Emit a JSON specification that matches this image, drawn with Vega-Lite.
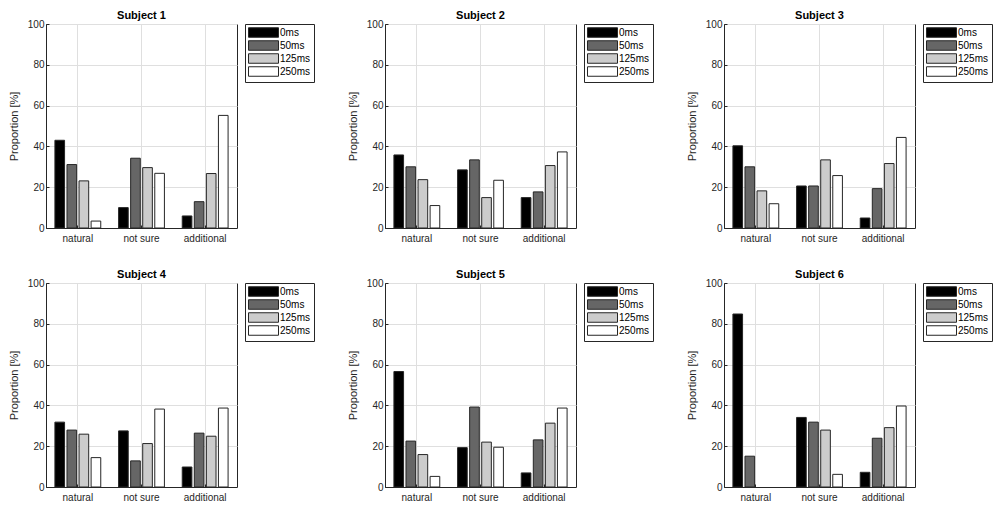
{
  "$schema": "https://vega.github.io/schema/vega-lite/v6.json",
  "padding": {"left": 7, "top": 9, "right": 0, "bottom": 0},
  "background": "white",
  "datasets": {
    "answers": [
      {"subject": "Subject 1", "response": "natural", "delay": "0ms", "proportion": 43.0},
      {"subject": "Subject 1", "response": "natural", "delay": "50ms", "proportion": 31.1},
      {"subject": "Subject 1", "response": "natural", "delay": "125ms", "proportion": 23.1},
      {"subject": "Subject 1", "response": "natural", "delay": "250ms", "proportion": 3.4},
      {"subject": "Subject 1", "response": "not sure", "delay": "0ms", "proportion": 10.0},
      {"subject": "Subject 1", "response": "not sure", "delay": "50ms", "proportion": 34.2},
      {"subject": "Subject 1", "response": "not sure", "delay": "125ms", "proportion": 29.6},
      {"subject": "Subject 1", "response": "not sure", "delay": "250ms", "proportion": 26.8},
      {"subject": "Subject 1", "response": "additional", "delay": "0ms", "proportion": 5.9},
      {"subject": "Subject 1", "response": "additional", "delay": "50ms", "proportion": 12.9},
      {"subject": "Subject 1", "response": "additional", "delay": "125ms", "proportion": 26.7},
      {"subject": "Subject 1", "response": "additional", "delay": "250ms", "proportion": 55.2},
      {"subject": "Subject 2", "response": "natural", "delay": "0ms", "proportion": 35.8},
      {"subject": "Subject 2", "response": "natural", "delay": "50ms", "proportion": 30.0},
      {"subject": "Subject 2", "response": "natural", "delay": "125ms", "proportion": 23.7},
      {"subject": "Subject 2", "response": "natural", "delay": "250ms", "proportion": 11.0},
      {"subject": "Subject 2", "response": "not sure", "delay": "0ms", "proportion": 28.5},
      {"subject": "Subject 2", "response": "not sure", "delay": "50ms", "proportion": 33.4},
      {"subject": "Subject 2", "response": "not sure", "delay": "125ms", "proportion": 14.9},
      {"subject": "Subject 2", "response": "not sure", "delay": "250ms", "proportion": 23.4},
      {"subject": "Subject 2", "response": "additional", "delay": "0ms", "proportion": 14.9},
      {"subject": "Subject 2", "response": "additional", "delay": "50ms", "proportion": 17.7},
      {"subject": "Subject 2", "response": "additional", "delay": "125ms", "proportion": 30.6},
      {"subject": "Subject 2", "response": "additional", "delay": "250ms", "proportion": 37.3},
      {"subject": "Subject 3", "response": "natural", "delay": "0ms", "proportion": 40.3},
      {"subject": "Subject 3", "response": "natural", "delay": "50ms", "proportion": 30.0},
      {"subject": "Subject 3", "response": "natural", "delay": "125ms", "proportion": 18.2},
      {"subject": "Subject 3", "response": "natural", "delay": "250ms", "proportion": 11.9},
      {"subject": "Subject 3", "response": "not sure", "delay": "0ms", "proportion": 20.6},
      {"subject": "Subject 3", "response": "not sure", "delay": "50ms", "proportion": 20.6},
      {"subject": "Subject 3", "response": "not sure", "delay": "125ms", "proportion": 33.4},
      {"subject": "Subject 3", "response": "not sure", "delay": "250ms", "proportion": 25.7},
      {"subject": "Subject 3", "response": "additional", "delay": "0ms", "proportion": 4.9},
      {"subject": "Subject 3", "response": "additional", "delay": "50ms", "proportion": 19.3},
      {"subject": "Subject 3", "response": "additional", "delay": "125ms", "proportion": 31.6},
      {"subject": "Subject 3", "response": "additional", "delay": "250ms", "proportion": 44.4},
      {"subject": "Subject 4", "response": "natural", "delay": "0ms", "proportion": 31.8},
      {"subject": "Subject 4", "response": "natural", "delay": "50ms", "proportion": 27.9},
      {"subject": "Subject 4", "response": "natural", "delay": "125ms", "proportion": 25.9},
      {"subject": "Subject 4", "response": "natural", "delay": "250ms", "proportion": 14.4},
      {"subject": "Subject 4", "response": "not sure", "delay": "0ms", "proportion": 27.5},
      {"subject": "Subject 4", "response": "not sure", "delay": "50ms", "proportion": 12.8},
      {"subject": "Subject 4", "response": "not sure", "delay": "125ms", "proportion": 21.3},
      {"subject": "Subject 4", "response": "not sure", "delay": "250ms", "proportion": 38.2},
      {"subject": "Subject 4", "response": "additional", "delay": "0ms", "proportion": 9.8},
      {"subject": "Subject 4", "response": "additional", "delay": "50ms", "proportion": 26.4},
      {"subject": "Subject 4", "response": "additional", "delay": "125ms", "proportion": 24.9},
      {"subject": "Subject 4", "response": "additional", "delay": "250ms", "proportion": 38.7},
      {"subject": "Subject 5", "response": "natural", "delay": "0ms", "proportion": 56.6},
      {"subject": "Subject 5", "response": "natural", "delay": "50ms", "proportion": 22.5},
      {"subject": "Subject 5", "response": "natural", "delay": "125ms", "proportion": 15.9},
      {"subject": "Subject 5", "response": "natural", "delay": "250ms", "proportion": 5.2},
      {"subject": "Subject 5", "response": "not sure", "delay": "0ms", "proportion": 19.3},
      {"subject": "Subject 5", "response": "not sure", "delay": "50ms", "proportion": 39.2},
      {"subject": "Subject 5", "response": "not sure", "delay": "125ms", "proportion": 22.0},
      {"subject": "Subject 5", "response": "not sure", "delay": "250ms", "proportion": 19.5},
      {"subject": "Subject 5", "response": "additional", "delay": "0ms", "proportion": 6.9},
      {"subject": "Subject 5", "response": "additional", "delay": "50ms", "proportion": 23.1},
      {"subject": "Subject 5", "response": "additional", "delay": "125ms", "proportion": 31.3},
      {"subject": "Subject 5", "response": "additional", "delay": "250ms", "proportion": 38.7},
      {"subject": "Subject 6", "response": "natural", "delay": "0ms", "proportion": 84.8},
      {"subject": "Subject 6", "response": "natural", "delay": "50ms", "proportion": 15.1},
      {"subject": "Subject 6", "response": "natural", "delay": "125ms", "proportion": 0},
      {"subject": "Subject 6", "response": "natural", "delay": "250ms", "proportion": 0},
      {"subject": "Subject 6", "response": "not sure", "delay": "0ms", "proportion": 34.1},
      {"subject": "Subject 6", "response": "not sure", "delay": "50ms", "proportion": 31.8},
      {"subject": "Subject 6", "response": "not sure", "delay": "125ms", "proportion": 27.9},
      {"subject": "Subject 6", "response": "not sure", "delay": "250ms", "proportion": 6.2},
      {"subject": "Subject 6", "response": "additional", "delay": "0ms", "proportion": 7.2},
      {"subject": "Subject 6", "response": "additional", "delay": "50ms", "proportion": 23.9},
      {"subject": "Subject 6", "response": "additional", "delay": "125ms", "proportion": 29.1},
      {"subject": "Subject 6", "response": "additional", "delay": "250ms", "proportion": 39.7}
    ]
  },
  "data": {"name": "answers"},
  "columns": 3,
  "spacing": {"row": 24, "column": 31},
  "resolve": {"legend": {"color": "independent"}},
  "concat": [
    {
      "title": "Subject 1",
      "transform": [{"filter": "datum.subject == 'Subject 1' && datum.proportion > 0"}],
      "width": 191, "height": 204,
      "mark": {"type": "bar", "stroke": "#262626", "strokeWidth": 1},
      "encoding": {
        "x": {"field": "response", "type": "nominal", "title": null, "scale": {"domain": ["natural", "not sure", "additional"], "paddingInner": 0.28, "paddingOuter": 0.14}},
        "xOffset": {"field": "delay", "type": "nominal", "scale": {"domain": ["0ms", "50ms", "125ms", "250ms"], "paddingInner": 0.2, "paddingOuter": 0}},
        "y": {"field": "proportion", "type": "quantitative", "title": "Proportion [%]", "scale": {"domain": [0, 100]}, "axis": {"values": [0, 20, 40, 60, 80, 100]}},
        "color": {"field": "delay", "type": "nominal", "scale": {"domain": ["0ms", "50ms", "125ms", "250ms"], "range": ["#000000", "#666666", "#cccccc", "#ffffff"]}}
      }
    },
    {
      "title": "Subject 2",
      "transform": [{"filter": "datum.subject == 'Subject 2' && datum.proportion > 0"}],
      "width": 191, "height": 204,
      "mark": {"type": "bar", "stroke": "#262626", "strokeWidth": 1},
      "encoding": {
        "x": {"field": "response", "type": "nominal", "title": null, "scale": {"domain": ["natural", "not sure", "additional"], "paddingInner": 0.28, "paddingOuter": 0.14}},
        "xOffset": {"field": "delay", "type": "nominal", "scale": {"domain": ["0ms", "50ms", "125ms", "250ms"], "paddingInner": 0.2, "paddingOuter": 0}},
        "y": {"field": "proportion", "type": "quantitative", "title": "Proportion [%]", "scale": {"domain": [0, 100]}, "axis": {"values": [0, 20, 40, 60, 80, 100]}},
        "color": {"field": "delay", "type": "nominal", "scale": {"domain": ["0ms", "50ms", "125ms", "250ms"], "range": ["#000000", "#666666", "#cccccc", "#ffffff"]}}
      }
    },
    {
      "title": "Subject 3",
      "transform": [{"filter": "datum.subject == 'Subject 3' && datum.proportion > 0"}],
      "width": 191, "height": 204,
      "mark": {"type": "bar", "stroke": "#262626", "strokeWidth": 1},
      "encoding": {
        "x": {"field": "response", "type": "nominal", "title": null, "scale": {"domain": ["natural", "not sure", "additional"], "paddingInner": 0.28, "paddingOuter": 0.14}},
        "xOffset": {"field": "delay", "type": "nominal", "scale": {"domain": ["0ms", "50ms", "125ms", "250ms"], "paddingInner": 0.2, "paddingOuter": 0}},
        "y": {"field": "proportion", "type": "quantitative", "title": "Proportion [%]", "scale": {"domain": [0, 100]}, "axis": {"values": [0, 20, 40, 60, 80, 100]}},
        "color": {"field": "delay", "type": "nominal", "scale": {"domain": ["0ms", "50ms", "125ms", "250ms"], "range": ["#000000", "#666666", "#cccccc", "#ffffff"]}}
      }
    },
    {
      "title": "Subject 4",
      "transform": [{"filter": "datum.subject == 'Subject 4' && datum.proportion > 0"}],
      "width": 191, "height": 204,
      "mark": {"type": "bar", "stroke": "#262626", "strokeWidth": 1},
      "encoding": {
        "x": {"field": "response", "type": "nominal", "title": null, "scale": {"domain": ["natural", "not sure", "additional"], "paddingInner": 0.28, "paddingOuter": 0.14}},
        "xOffset": {"field": "delay", "type": "nominal", "scale": {"domain": ["0ms", "50ms", "125ms", "250ms"], "paddingInner": 0.2, "paddingOuter": 0}},
        "y": {"field": "proportion", "type": "quantitative", "title": "Proportion [%]", "scale": {"domain": [0, 100]}, "axis": {"values": [0, 20, 40, 60, 80, 100]}},
        "color": {"field": "delay", "type": "nominal", "scale": {"domain": ["0ms", "50ms", "125ms", "250ms"], "range": ["#000000", "#666666", "#cccccc", "#ffffff"]}}
      }
    },
    {
      "title": "Subject 5",
      "transform": [{"filter": "datum.subject == 'Subject 5' && datum.proportion > 0"}],
      "width": 191, "height": 204,
      "mark": {"type": "bar", "stroke": "#262626", "strokeWidth": 1},
      "encoding": {
        "x": {"field": "response", "type": "nominal", "title": null, "scale": {"domain": ["natural", "not sure", "additional"], "paddingInner": 0.28, "paddingOuter": 0.14}},
        "xOffset": {"field": "delay", "type": "nominal", "scale": {"domain": ["0ms", "50ms", "125ms", "250ms"], "paddingInner": 0.2, "paddingOuter": 0}},
        "y": {"field": "proportion", "type": "quantitative", "title": "Proportion [%]", "scale": {"domain": [0, 100]}, "axis": {"values": [0, 20, 40, 60, 80, 100]}},
        "color": {"field": "delay", "type": "nominal", "scale": {"domain": ["0ms", "50ms", "125ms", "250ms"], "range": ["#000000", "#666666", "#cccccc", "#ffffff"]}}
      }
    },
    {
      "title": "Subject 6",
      "transform": [{"filter": "datum.subject == 'Subject 6' && datum.proportion > 0"}],
      "width": 191, "height": 204,
      "mark": {"type": "bar", "stroke": "#262626", "strokeWidth": 1},
      "encoding": {
        "x": {"field": "response", "type": "nominal", "title": null, "scale": {"domain": ["natural", "not sure", "additional"], "paddingInner": 0.28, "paddingOuter": 0.14}},
        "xOffset": {"field": "delay", "type": "nominal", "scale": {"domain": ["0ms", "50ms", "125ms", "250ms"], "paddingInner": 0.2, "paddingOuter": 0}},
        "y": {"field": "proportion", "type": "quantitative", "title": "Proportion [%]", "scale": {"domain": [0, 100]}, "axis": {"values": [0, 20, 40, 60, 80, 100]}},
        "color": {"field": "delay", "type": "nominal", "scale": {"domain": ["0ms", "50ms", "125ms", "250ms"], "range": ["#000000", "#666666", "#cccccc", "#ffffff"]}}
      }
    }
  ],
  "config": {
    "font": "Liberation Sans",
    "view": {"stroke": "#262626", "strokeWidth": 1},
    "title": {"fontSize": 11, "fontWeight": "bold", "color": "#000000", "offset": -2},
    "axis": {
      "labelFontSize": 10,
      "labelColor": "#262626",
      "titleFontSize": 11,
      "titleFontWeight": "normal",
      "titleColor": "#262626",
      "domainColor": "#262626",
      "tickColor": "#262626",
      "gridColor": "#dfdfdf",
      "grid": true,
      "tickSize": -3,
      "labelPadding": 5
    },
    "axisX": {"labelAngle": 0, "bandPosition": 0.5, "labelPadding": 8},
    "axisY": {"titlePadding": 8},
    "legend": {
      "title": null,
      "orient": "right",
      "offset": 8,
      "strokeColor": "#262626",
      "fillColor": "#ffffff",
      "padding": 3,
      "symbolType": "M-3,-0.95H3V0.95H-3Z",
      "symbolSize": 100,
      "symbolOffset": 10,
      "symbolStrokeColor": "#262626",
      "symbolStrokeWidth": 1,
      "labelFontSize": 10,
      "labelColor": "#000000",
      "labelOffset": 11,
      "rowPadding": -2
    }
  }
}
